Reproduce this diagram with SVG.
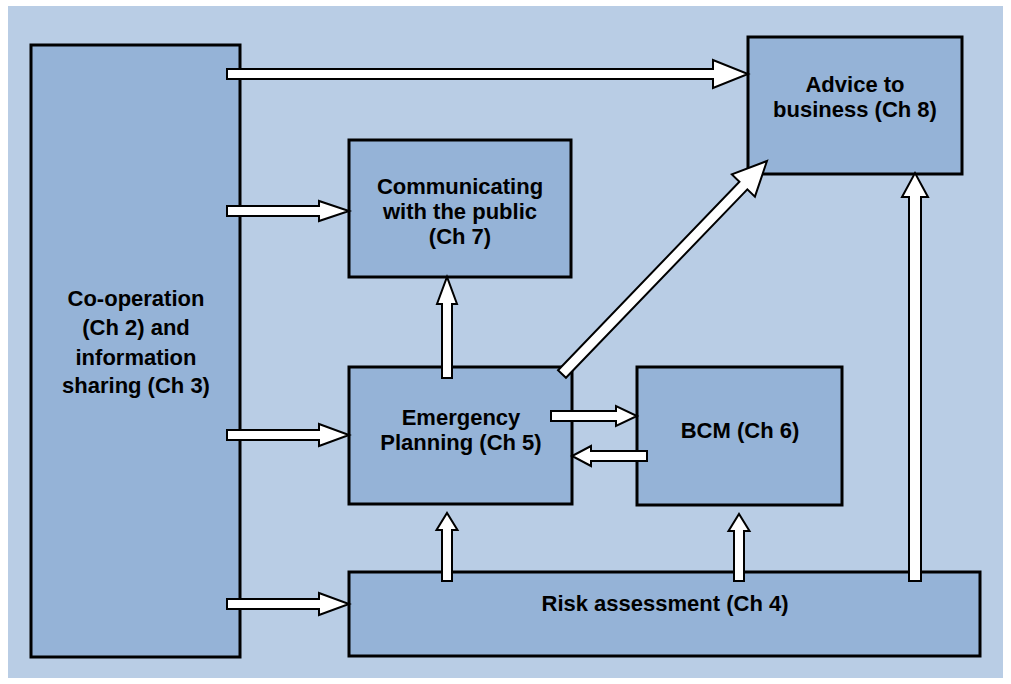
<svg xmlns="http://www.w3.org/2000/svg" width="1011" height="684" viewBox="0 0 1011 684">
<style>
.node{fill:#95b3d7;stroke:#000;stroke-width:3}
.lbl{font-family:"Liberation Sans",Arial,sans-serif;font-weight:bold;font-size:22px;fill:#000;text-anchor:middle}
.arr{fill:#fff;stroke:#000;stroke-width:2;stroke-linejoin:miter}
</style>
<rect x="8" y="6" width="995" height="672" fill="#b9cde5"/>
<g id="coop">
<rect class="node" x="31" y="45" width="209" height="612"/>
<text class="lbl" x="136" y="306">Co-operation</text>
<text class="lbl" x="136" y="335">(Ch 2) and</text>
<text class="lbl" x="136" y="365">information</text>
<text class="lbl" x="136" y="393">sharing (Ch 3)</text>
</g>
<g id="advice">
<rect class="node" x="748" y="37" width="214" height="137"/>
<text class="lbl" x="855" y="92">Advice to</text>
<text class="lbl" x="855" y="117">business (Ch 8)</text>
</g>
<g id="comm">
<rect class="node" x="349" y="140" width="222" height="137"/>
<text class="lbl" x="460" y="194">Communicating</text>
<text class="lbl" x="460" y="219">with the public</text>
<text class="lbl" x="460" y="244">(Ch 7)</text>
</g>
<g id="emergency">
<rect class="node" x="349" y="367" width="223" height="137"/>
<text class="lbl" x="461" y="425">Emergency</text>
<text class="lbl" x="461" y="450">Planning (Ch 5)</text>
</g>
<g id="bcm">
<rect class="node" x="637" y="367" width="205" height="138"/>
<text class="lbl" x="740" y="438">BCM (Ch 6)</text>
</g>
<g id="risk">
<rect class="node" x="349" y="572" width="631" height="84"/>
<text class="lbl" x="665" y="611">Risk assessment (Ch 4)</text>
</g>
<g id="connectors">
<!-- left box to advice -->
<polygon class="arr" points="227,69 713,69 713,60 748,74 713,88 713,79 227,79"/>
<!-- left box to comm -->
<polygon class="arr" points="227,206 319,206 319,201 349,211 319,221 319,216 227,216"/>
<!-- left box to emergency -->
<polygon class="arr" points="227,430 319,430 319,424 349,435 319,446 319,440 227,440"/>
<!-- left box to risk -->
<polygon class="arr" points="227,599 319,599 319,593 349,604 319,615 319,609 227,609"/>
<!-- emergency to bcm -->
<polygon class="arr" points="551,411 616,411 616,406 637,416 616,426 616,421 551,421"/>
<!-- bcm to emergency -->
<polygon class="arr" points="647,451 591,451 591,446 572,456 591,466 591,461 647,461"/>
<!-- emergency to comm -->
<polygon class="arr" points="442,378 442,304 437,304 447,277 457,304 452,304 452,378"/>
<!-- risk to emergency -->
<polygon class="arr" points="442,581 442,530 436.5,530 447,513 457.5,530 452,530 452,581"/>
<!-- risk to bcm -->
<polygon class="arr" points="734,581 734,531 728.5,531 739,514 749.5,531 744,531 744,581"/>
<!-- risk to advice -->
<polygon class="arr" points="909,581 909,197 902,197 915,173 928,197 921,197 921,581"/>
<!-- emergency to advice (diagonal) -->
<polygon class="arr" transform="translate(562,374) rotate(-46.1)" points="0,-5.5 261.6,-5.5 261.6,-16 295.6,0 261.6,16 261.6,5.5 0,5.5"/>
</g>
</svg>
